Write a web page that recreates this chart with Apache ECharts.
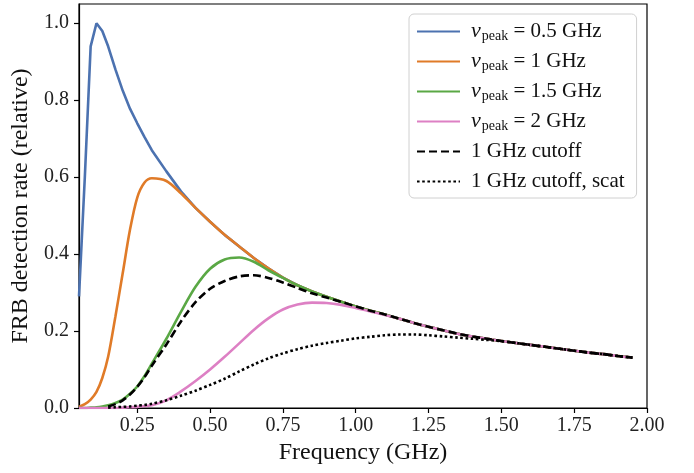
<!DOCTYPE html>
<html>
<head>
<meta charset="utf-8">
<script src="https://cdn.jsdelivr.net/npm/echarts@6/dist/echarts.min.js"></script>
<style>
  html, body { margin: 0; padding: 0; background: #fff; }
  #chart { width: 694px; height: 473px; }
</style>
</head>
<body>
<div id="chart"></div>
<script>
  // frequency grid (GHz), finer near the low-frequency peaks
  var freq = [0.05, 0.07, 0.09, 0.11, 0.13, 0.15, 0.175, 0.2, 0.225, 0.25, 0.275, 0.3, 0.35, 0.4, 0.45, 0.5, 0.55, 0.6, 0.65, 0.7, 0.75,
    0.8, 0.85, 0.9, 0.95, 1.0, 1.05, 1.1, 1.15, 1.2, 1.25, 1.3, 1.35, 1.4, 1.45, 1.5, 1.55, 1.6, 1.65, 1.7, 1.75,
    1.8, 1.85, 1.9, 1.95];

  var peak05 = [0.29, 0.6, 0.94, 1.0, 0.98, 0.94, 0.88, 0.825, 0.778, 0.74, 0.704, 0.67, 0.615, 0.563, 0.52, 0.484, 0.45, 0.42, 0.39, 0.363, 0.339,
    0.319, 0.303, 0.289, 0.276, 0.264, 0.253, 0.243, 0.232, 0.221, 0.211, 0.202, 0.193, 0.186, 0.18, 0.174, 0.169, 0.164, 0.159, 0.154, 0.149,
    0.144, 0.14, 0.135, 0.131];
  var peak1 = [0.003, 0.01, 0.022, 0.042, 0.078, 0.133, 0.238, 0.35, 0.463, 0.547, 0.586, 0.597, 0.59, 0.558, 0.52, 0.484, 0.45, 0.42, 0.39, 0.363, 0.339,
    0.319, 0.303, 0.289, 0.276, 0.264, 0.253, 0.243, 0.232, 0.221, 0.211, 0.202, 0.193, 0.186, 0.18, 0.174, 0.169, 0.164, 0.159, 0.154, 0.149,
    0.144, 0.14, 0.135, 0.131];
  var peak15 = [0, 0, 0.001, 0.002, 0.004, 0.007, 0.013, 0.022, 0.037, 0.056, 0.083, 0.115, 0.18, 0.25, 0.315, 0.362, 0.386, 0.391, 0.38, 0.358, 0.338,
    0.319, 0.303, 0.289, 0.276, 0.264, 0.253, 0.243, 0.232, 0.221, 0.211, 0.202, 0.193, 0.186, 0.18, 0.174, 0.169, 0.164, 0.159, 0.154, 0.149,
    0.144, 0.14, 0.135, 0.131];
  var peak2 = [0, 0, 0, 0, 0, 0, 0, 0.001, 0.002, 0.003, 0.005, 0.007, 0.02, 0.043, 0.07, 0.1, 0.133, 0.168, 0.203, 0.233, 0.256,
    0.269, 0.274, 0.273, 0.268, 0.26, 0.251, 0.242, 0.232, 0.221, 0.211, 0.202, 0.193, 0.186, 0.18, 0.174, 0.169, 0.164, 0.159, 0.154, 0.149,
    0.144, 0.14, 0.135, 0.131];
  var cutoff = [null, null, null, null, null, 0.004, 0.01, 0.02, 0.035, 0.055, 0.08, 0.11, 0.165, 0.225, 0.275, 0.31, 0.33, 0.342, 0.345, 0.338, 0.326,
    0.312, 0.298, 0.287, 0.276, 0.264, 0.253, 0.243, 0.232, 0.221, 0.211, 0.202, 0.193, 0.186, 0.18, 0.174, 0.169, 0.164, 0.159, 0.154, 0.149,
    0.144, 0.14, 0.135, 0.131];
  var cutoffScat = [null, null, null, null, null, 0.001, 0.002, 0.003, 0.004, 0.006, 0.008, 0.011, 0.02, 0.032, 0.045, 0.06, 0.076, 0.095, 0.113, 0.129, 0.142,
    0.153, 0.162, 0.169, 0.175, 0.181, 0.185, 0.189, 0.191, 0.191, 0.189, 0.186, 0.183, 0.18, 0.177, 0.174, 0.169, 0.164, 0.159, 0.154, 0.149,
    0.144, 0.14, 0.135, 0.131];

  var xTicks = [0.25, 0.5, 0.75, 1.0, 1.25, 1.5, 1.75, 2.0];
  var yTicks = [0, 0.2, 0.4, 0.6, 0.8, 1.0];

  var names = ['p05', 'p1', 'p15', 'p2', 'cut', 'scat'];
  var legendText = {
    p05: '{nu|ν}{sub|peak}{t| = 0.5 GHz}',
    p1: '{nu|ν}{sub|peak}{t| = 1 GHz}',
    p15: '{nu|ν}{sub|peak}{t| = 1.5 GHz}',
    p2: '{nu|ν}{sub|peak}{t| = 2 GHz}',
    cut: '{t|1 GHz cutoff}',
    scat: '{t|1 GHz cutoff, scat}'
  };
  var colors = ['#4c72b0', '#e07b28', '#5aa845', '#dd80c4', '#000000', '#000000'];

  function pairs(ys) {
    return freq.map(function (f, i) { return [f, ys[i]]; });
  }

  var serif = 'Liberation Serif';
  var chart = echarts.init(document.getElementById('chart'), null, { renderer: 'canvas' });

  function line(i, ys, type, smooth) {
    return {
      name: names[i],
      type: 'line',
      data: pairs(ys),
      showSymbol: false,
      symbol: 'none',
      smooth: smooth,
      connectNulls: false,
      color: colors[i],
      lineStyle: { width: 2.6, color: colors[i], type: type, cap: 'butt' },
      animation: false,
      z: 2 + i
    };
  }

  chart.setOption({
    animation: false,
    grid: { left: 79, right: 47, top: 4, bottom: 65, show: true, borderColor: '#000', borderWidth: 1.2, backgroundColor: '#fff' },
    legend: {
      orient: 'vertical',
      left: 409,
      top: 14,
      padding: [6, 12, 5, 7],
      itemWidth: 43,
      itemHeight: 14,
      itemGap: 7,
      itemStyle: { opacity: 0 },
      backgroundColor: '#fff',
      borderColor: '#d0d0d0',
      borderWidth: 1,
      borderRadius: 5,
      data: names,
      formatter: function (n) { return legendText[n]; },
      textStyle: {
        fontFamily: serif,
        fontSize: 21,
        color: '#111',
        lineHeight: 23,
        padding: [0, 0, 0, 6],
        rich: {
          nu: { fontFamily: serif, fontStyle: 'italic', fontSize: 22, color: '#111', lineHeight: 23 },
          sub: { fontFamily: serif, fontSize: 14, color: '#111', verticalAlign: 'bottom', padding: [9, 0, 0, 1], lineHeight: 14 },
          t: { fontFamily: serif, fontSize: 21, color: '#111', lineHeight: 23 }
        }
      }
    },
    xAxis: {
      type: 'value',
      min: 0.05,
      max: 2.0,
      name: 'Frequency (GHz)',
      nameLocation: 'middle',
      nameGap: 29,
      nameTextStyle: { fontFamily: serif, fontSize: 24, color: '#111' },
      axisLine: { lineStyle: { color: '#000', width: 1.2 } },
      axisTick: { show: true, inside: false, length: 5, customValues: xTicks, lineStyle: { color: '#000', width: 1.2 } },
      axisLabel: {
        customValues: xTicks,
        fontFamily: serif, fontSize: 20, color: '#222', margin: 8,
        formatter: function (v) { return v.toFixed(2); }
      },
      splitLine: { show: false }
    },
    yAxis: {
      type: 'value',
      min: 0,
      max: 1.05,
      name: 'FRB detection rate (relative)',
      nameLocation: 'middle',
      nameGap: 40,
      nameTextStyle: { fontFamily: serif, fontSize: 24, color: '#111' },
      axisLine: { show: true, lineStyle: { color: '#000', width: 1.2 } },
      axisTick: { show: true, inside: false, length: 5, customValues: yTicks, lineStyle: { color: '#000', width: 1.2 } },
      axisLabel: {
        customValues: yTicks,
        fontFamily: serif, fontSize: 20, color: '#222', margin: 10,
        formatter: function (v) { return v.toFixed(1); }
      },
      splitLine: { show: false }
    },
    series: [
      line(0, peak05, 'solid', false),
      line(1, peak1, 'solid', 0.3),
      line(2, peak15, 'solid', 0.3),
      line(3, peak2, 'solid', 0.3),
      line(4, cutoff, [8, 4], 0.3),
      line(5, cutoffScat, [2.6, 2.6], 0.3)
    ]
  });
</script>
</body>
</html>
